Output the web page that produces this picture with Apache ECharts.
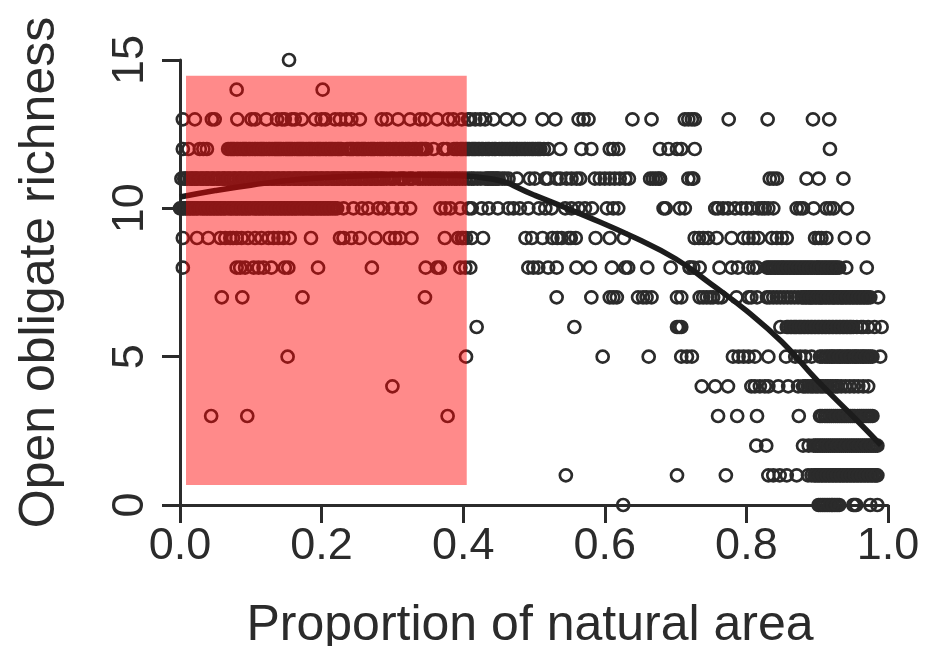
<!DOCTYPE html>
<html>
<head>
<meta charset="utf-8">
<script src="https://cdn.jsdelivr.net/npm/echarts@6/dist/echarts.min.js"></script>
<style>html,body{margin:0;padding:0;background:#fff}#c{width:927px;height:646px}</style>
</head>
<body>
<div id="c"></div>
<script>
const richness15 = [.154];
const richness14 = [.080,.2015];
const richness13 = [.004,.021,.045,.049,.081,.101,.106,.122,.137,.144,.148,.158,.162,.172,.191,.200,.205,.219,.226,.235,.242,.254,.285,.292,.308,.325,.339,.346,.363,.379,.386,.398,.407,.410,.417,.424,.431,.443,.461,.479,.512,.530,.563,.570,.577,.639,.666,.713,.718,.723,.727,.775,.830,.894,.917];
const richness12 = [.004,.012,.028,.033,.038,.068,.073,.077,.082,.085,.090,.094,.099,.102,.107,.110,.115,.119,.122,.127,.130,.135,.139,.143,.146,.151,.155,.159,.162,.167,.171,.175,.178,.183,.187,.190,.195,.199,.202,.207,.212,.216,.219,.224,.228,.236,.241,.245,.249,.253,.258,.262,.266,.271,.275,.279,.284,.288,.292,.297,.301,.306,.310,.315,.319,.324,.329,.334,.339,.343,.348,.358,.372,.377,.387,.392,.396,.400,.405,.409,.414,.418,.423,.428,.432,.437,.441,.446,.451,.456,.462,.467,.472,.477,.483,.488,.494,.499,.505,.509,.514,.520,.537,.567,.581,.607,.612,.619,.678,.690,.702,.708,.727,.918,
  .071,.075,.080,.088,.092,.097,.105,.113,.117,.125,.133,.137,.141,.149,.153,.157,.165,.169,.173,.181,.185,.193,.197,.205,.210,.214,.222,.226,.239,.243,.251,.256,.260,.269,.273,.282,.286,.295,.304,.313,.322,.332,.341,.346,.390,.398,.403,.407,.412,.416,.421,.426,.435,.444,.454,.459,.465,.470,.475,.480,.486,.491,.497,.502,.507];
const richness11 = [.002,.006,.010,.014,.018,.021,.025,.029,.033,.037,.040,.044,.048,.052,.056,.060,.063,.067,.071,.075,.079,.083,.086,.090,.094,.098,.102,.106,.110,.113,.117,.121,.125,.129,.133,.137,.140,.144,.148,.152,.156,.160,.164,.167,.171,.175,.179,.183,.187,.191,.194,.198,.202,.206,.210,.214,.218,.221,.225,.229,.233,.237,.241,.245,.248,.252,.256,.260,.264,.268,.271,.275,.279,.283,.288,.292,.297,.303,.309,.312,.317,.323,.329,.336,.343,.351,.358,.365,.372,.380,.388,.395,.403,.408,.412,.431,.436,.441,.446,.450,.455,.459,.464,.476,.494,.501,.516,.520,.532,.537,.546,.553,.560,.565,.586,.593,.600,.607,.614,.621,.629,.634,.664,.668,.672,.676,.678,.718,.723,.725,.833,.838,.843,.885,.902,.937,
  .008,.016,.023,.031,.038,.046,.054,.062,.069,.077,.085,.092,.100,.108,.115,.123,.131,.138,.146,.154,.162,.169,.177,.185,.192,.200,.208,.216,.223,.231,.239,.247,.254,.262,.270,.277,.285,.300,.315,.326,.339,.347,.354,.361,.368,.376,.384,.391,.399,.415,.420,.425,.434,.439,.443,.448];
const richness10 = [.000,.005,.010,.015,.020,.025,.029,.034,.039,.044,.049,.054,.059,.064,.068,.073,.079,.084,.089,.094,.099,.103,.108,.113,.118,.124,.129,.134,.139,.144,.149,.154,.159,.164,.170,.175,.181,.186,.190,.195,.200,.205,.210,.216,.222,.231,.245,.257,.266,.280,.287,.300,.313,.325,.368,.375,.382,.396,.408,.412,.426,.436,.449,.464,.471,.480,.492,.507,.516,.525,.544,.553,.563,.572,.582,.603,.612,.619,.683,.686,.706,.713,.756,.760,.767,.774,.784,.793,.800,.807,.817,.822,.826,.831,.838,.871,.876,.880,.895,.913,.918,.923,.942,
  .003,.008,.013,.018,.023,.032,.037,.042,.047,.052,.057,.062,.071,.076,.081,.087,.092,.097,.106,.111,.116,.121,.127,.132,.137,.142,.147,.152,.157,.162,.167,.173,.178,.184,.188,.193,.198,.203,.208,.213,.219];
const richness9 = [.004,.024,.040,.057,.064,.071,.075,.080,.087,.096,.106,.115,.125,.132,.139,.146,.155,.185,.226,.231,.242,.254,.276,.296,.304,.311,.327,.374,.393,.400,.404,.398,.412,.428,.488,.497,.512,.526,.533,.539,.549,.552,.559,.587,.607,.627,.727,.733,.739,.746,.758,.779,.796,.803,.810,.817,.836,.843,.850,.857,.897,.902,.906,.913,.939,.965];
const richness8 = [.004,.080,.085,.092,.104,.111,.118,.129,.148,.153,.195,.271,.347,.363,.367,.396,.403,.410,.492,.499,.506,.520,.532,.560,.579,.610,.629,.633,.660,.693,.720,.725,.720,.734,.762,.779,.788,.803,.810,.815,.831,.836,.841,.846,.851,.856,.861,.866,.871,.876,.881,.886,.891,.896,.901,.906,.911,.916,.921,.926,.931,.941,.970,
  .829,.834,.839,.844,.849,.853,.858,.863,.868,.873,.878,.883,.888,.893,.899,.903,.908,.913,.918,.923,.928];
const richness7 = [.059,.088,.173,.346,.532,.581,.607,.612,.617,.647,.654,.659,.666,.702,.708,.734,.739,.744,.749,.753,.760,.765,.786,.803,.807,.815,.829,.833,.838,.843,.848,.853,.858,.863,.868,.873,.878,.883,.888,.892,.897,.902,.906,.911,.916,.921,.925,.930,.935,.940,.945,.950,.955,.960,.965,.970,.975,.986,
  .880,.885,.890,.894,.899,.904,.908,.913,.918,.923,.928,.933,.937,.942,.947,.952,.957,.962,.967,.972];
const richness6 = [.419,.557,.702,.705,.708,.848,.857,.862,.867,.871,.876,.881,.886,.891,.896,.901,.906,.911,.916,.921,.926,.931,.936,.941,.946,.951,.956,.962,.965,.972,.981,.991,
  .859,.864,.869,.874,.878,.883,.888,.893,.898,.903,.908,.913,.918,.923,.928,.933,.938,.943,.948];
const richness5 = [.152,.404,.597,.662,.708,.716,.723,.781,.789,.796,.803,.812,.831,.856,.869,.876,.883,.892,.904,.911,.917,.922,.928,.933,.939,.944,.950,.955,.961,.966,.972,.978,.989,.907,.914,.920,.925,.931,.936,.942,.947,.953,.958,.964,.969,.975];
const richness4 = [.300,.737,.756,.774,.807,.812,.819,.826,.831,.845,.859,.873,.880,.887,.894,.901,.908,.915,.922,.929,.934,.940,.946,.952,.958,.965,.972,.883,.891,.898,.905,.912,.919,.926];
const richness3 = [.044,.095,.378,.760,.787,.815,.874,.904,.911,.917,.923,.929,.935,.941,.947,.953,.960,.966,.972,.978,.907,.914,.920,.926,.932,.938,.944,.950,.957,.963,.969,.975];
const richness2 = [.814,.828,.880,.888,.895,.901,.907,.913,.919,.925,.931,.937,.943,.949,.955,.961,.967,.973,.979,.985,.898,.904,.910,.916,.922,.928,.934,.940,.946,.952,.958,.964,.970,.976,.982];
const richness1 = [.545,.702,.771,.831,.838,.847,.857,.871,.887,.892,.896,.901,.906,.911,.916,.921,.926,.931,.936,.941,.946,.951,.956,.961,.966,.971,.976,.981,.985,.898,.903,.908,.913,.918,.923,.928,.933,.938,.943,.948,.953,.958,.963,.968,.973,.978,.983];
const richness0 = [.626,.902,.908,.914,.920,.925,.931,.951,.955,.975,.985,.905,.911,.917,.922,.928,.953];
const rows = [
  [15,richness15],[14,richness14],[13,richness13],[12,richness12],[11,richness11],
  [10,richness10],[9,richness9],[8,richness8],[7,richness7],[6,richness6],
  [5,richness5],[4,richness4],[3,richness3],[2,richness2],[1,richness1],[0,richness0]
];
const curveX = [0,.05,.10,.17,.24,.31,.38,.438,.50,.575,.645,.70,.75,.80,.85,.90,.95,.99];
const curveY = [10.38,10.6,10.78,10.98,11.08,11.13,11.11,11.0,10.45,9.72,8.98,8.3,7.45,6.55,5.5,4.2,3.0,2.02];
const shadeX = [.0085,.405];
const shadeY = [.67,14.47];

const points = [];
rows.forEach(r => r[1].forEach(x => points.push([x, r[0]])));
const ink = '#2b2b2b';
const fontFamily = '"Liberation Sans", Arial, sans-serif';
const chart = echarts.init(document.getElementById('c'));
chart.setOption({
  animation:false,
  backgroundColor:'#fff',
  grid:{left:180,right:39,top:60,bottom:141,containLabel:false,outerBoundsMode:'none'},
  xAxis:{type:'value',min:0,max:1,interval:.2,
    name:'Proportion of natural area',nameLocation:'middle',nameGap:96,
    nameTextStyle:{fontFamily,fontSize:50,color:ink,padding:[0,8,0,0]},
    axisLine:{show:true,lineStyle:{color:ink,width:3}},
    axisTick:{show:true,length:18,lineStyle:{color:ink,width:3}},
    axisLabel:{fontFamily,fontSize:45,color:ink,margin:19,showMinLabel:true,showMaxLabel:true,hideOverlap:false,formatter:v=>v.toFixed(1)},
    splitLine:{show:false}},
  yAxis:{type:'value',min:0,max:15,interval:5,
    name:'Open obligate richness',nameLocation:'middle',nameGap:115,
    nameTextStyle:{fontFamily,fontSize:50,color:ink,padding:[0,0,0,20]},
    axisLine:{show:true,onZero:false,lineStyle:{color:ink,width:3}},
    axisTick:{show:true,length:18,lineStyle:{color:ink,width:3}},
    axisLabel:{fontFamily,fontSize:45,color:ink,rotate:90,margin:27,hideOverlap:false},
    splitLine:{show:false}},
  series:[
    {type:'scatter',data:points,symbol:'circle',symbolSize:12,clip:false,z:2,
      itemStyle:{color:'rgba(0,0,0,0)',borderColor:ink,borderWidth:2.7,opacity:1}},
    {type:'line',data:curveX.map((x,i)=>[x,curveY[i]]),smooth:true,showSymbol:false,symbol:'none',z:3,
      lineStyle:{color:'#1c1c1c',width:5.5}},
    {type:'scatter',data:[],z:4,silent:true,
      markArea:{silent:true,z:10,itemStyle:{color:'rgba(255,0,0,0.46)',borderWidth:0},
        data:[[{xAxis:shadeX[0],yAxis:shadeY[1]},{xAxis:shadeX[1],yAxis:shadeY[0]}]]}}
  ]
});
</script>
</body>
</html>
